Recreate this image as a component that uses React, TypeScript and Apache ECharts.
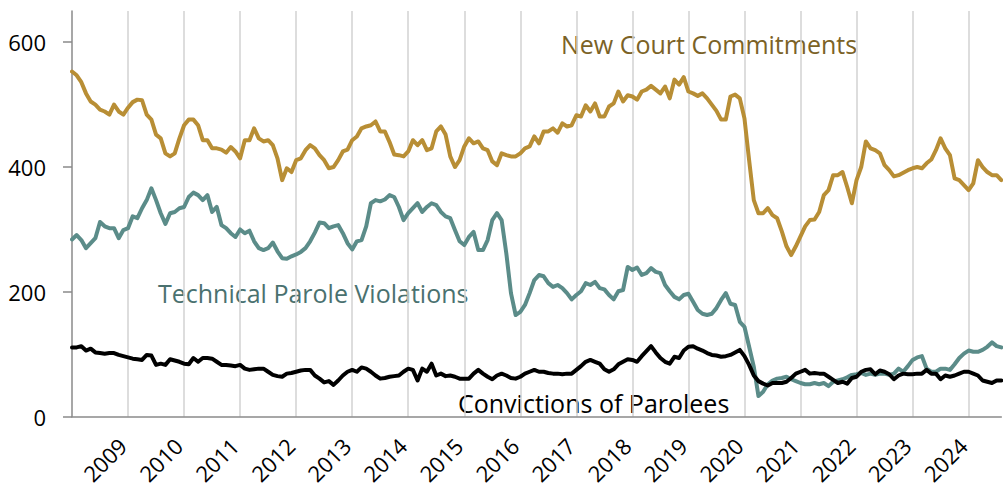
import React, { useEffect, useRef } from "react";
import * as echarts from "echarts";

// Monthly categories, Jan 2008 .. Aug 2024
const START_YEAR = 2008;
const MONTH_COUNT = 200;
const months: string[] = Array.from(
  { length: MONTH_COUNT },
  (_, i) => `${START_YEAR + Math.floor(i / 12)}-${String((i % 12) + 1).padStart(2, "0")}`
);

const yTicks = [0, 200, 400, 600];

// New Court Commitments
const newCourt = [
  553, 547, 536, 518, 505, 500, 492, 489, 484, 500, 489, 484,
  495, 504, 508, 507, 484, 476, 452, 446, 422, 417, 422, 446,
  467, 476, 476, 467, 443, 443, 430, 430, 428, 423, 432, 425,
  414, 443, 443, 462, 446, 441, 443, 435, 414, 379, 398, 392,
  411, 414, 427, 435, 430, 419, 411, 398, 400, 411, 425, 428,
  443, 449, 462, 465, 467, 473, 457, 457, 440, 420, 419, 417,
  425, 443, 435, 443, 427, 430, 457, 465, 452, 417, 400, 411,
  433, 446, 438, 441, 430, 427, 409, 403, 422, 419, 417, 417,
  422, 430, 433, 449, 438, 457, 457, 462, 455, 470, 465, 467,
  483, 481, 499, 489, 502, 481, 481, 497, 502, 521, 505, 515,
  513, 508, 521, 524, 530, 524, 518, 529, 510, 540, 532, 544,
  521, 518, 514, 518, 510, 500, 490, 476, 476, 513, 516, 510,
  478, 411, 347, 326, 326, 334, 323, 318, 297, 273, 259, 273,
  289, 305, 315, 316, 328, 355, 363, 387, 387, 392, 368, 342,
  379, 400, 441, 430, 427, 422, 403, 395, 385, 387, 391, 395,
  398, 400, 398, 406, 412, 427, 446, 430, 419, 382, 379, 371,
  363, 374, 411, 400, 392, 387, 387, 379,
];

// Technical Parole Violations
const technical = [
  284, 291, 283, 270, 278, 286, 312, 305, 302, 302, 286, 299,
  302, 321, 318, 334, 347, 366, 347, 326, 309, 326, 328, 334,
  336, 352, 359, 355, 347, 355, 328, 336, 307, 302, 294, 288,
  300, 294, 298, 281, 270, 267, 270, 279, 265, 254, 253, 257,
  260, 264, 270, 281, 295, 311, 310, 302, 305, 307, 294, 278,
  268, 281, 283, 305, 342, 347, 345, 348, 355, 352, 336, 315,
  326, 334, 342, 328, 336, 342, 339, 328, 321, 318, 299, 281,
  275, 288, 296, 267, 267, 283, 315, 326, 315, 262, 198, 163,
  168, 179, 198, 219, 227, 225, 214, 208, 211, 206, 198, 188,
  195, 201, 214, 211, 216, 206, 204, 195, 188, 201, 203, 240,
  235, 239, 227, 230, 238, 232, 230, 211, 201, 192, 188, 195,
  197, 184, 171, 165, 163, 165, 174, 187, 198, 181, 179, 152,
  144, 112, 80, 33, 40, 52, 58, 61, 62, 64, 60, 57,
  54, 52, 52, 54, 52, 54, 49, 56, 58, 60, 63, 67,
  68, 70, 67, 69, 67, 69, 69, 67, 69, 77, 72, 81,
  91, 95, 97, 77, 72, 72, 77, 77, 75, 84, 94, 101,
  106, 104, 104, 107, 112, 119, 113, 111,
];

// Convictions of Parolees
const convictions = [
  111, 111, 113, 106, 109, 103, 102, 101, 102, 102, 99, 97,
  95, 93, 92, 91, 99, 98, 83, 85, 83, 92, 90, 88,
  85, 84, 94, 88, 94, 94, 93, 88, 83, 83, 82, 81,
  83, 77, 75, 76, 77, 77, 72, 67, 65, 64, 69, 70,
  72, 74, 75, 75, 66, 61, 55, 57, 51, 58, 66, 72,
  75, 72, 79, 77, 72, 66, 61, 62, 64, 65, 66, 72,
  77, 75, 58, 77, 72, 85, 66, 69, 65, 66, 64, 61,
  61, 61, 69, 75, 69, 64, 60, 66, 69, 66, 62, 61,
  64, 69, 72, 75, 72, 72, 70, 69, 69, 68, 69, 69,
  75, 81, 88, 91, 88, 85, 76, 72, 76, 84, 88, 92,
  91, 88, 97, 105, 113, 103, 94, 88, 85, 96, 94, 106,
  112, 113, 109, 106, 102, 99, 98, 96, 97, 99, 103, 107,
  97, 83, 66, 57, 53, 50, 54, 54, 54, 56, 62, 69,
  72, 75, 69, 70, 69, 69, 64, 59, 54, 56, 53, 62,
  64, 72, 75, 76, 68, 74, 72, 68, 60, 66, 69, 68,
  68, 69, 69, 75, 69, 69, 60, 66, 64, 66, 69, 72,
  72, 69, 66, 58, 56, 54, 58, 58,
];

const seriesNames = ["New Court Commitments", "Technical Parole Violations", "Convictions of Parolees"];
const lineColors = ["#B88E35", "#5B8C89", "#000000"];
const labelColors = ["#7B6226", "#4A716F", "#000000"];

const FONT = "'Open Sans', 'Noto Sans', sans-serif";

export default function App() {
  const ref = useRef<HTMLDivElement>(null);

  useEffect(() => {
    if (!ref.current) return;
    const chart = echarts.init(ref.current, undefined, { renderer: "svg" });
    const isYearStart = (index: number) => index > 0 && index % 12 === 0;

    const mkSeries = (name: string, data: number[], color: string) => ({
      name,
      type: "line",
      data,
      xAxisIndex: 0,
      yAxisIndex: 0,
      showSymbol: false,
      symbol: "none",
      smooth: false,
      lineStyle: { color, width: 4, join: "round", cap: "round" },
      itemStyle: { color },
      emphasis: { disabled: true },
    });

    const plotW = 929.3;
    const plotH = 405.7;

    chart.setOption({
      animation: false,
      backgroundColor: "#ffffff",
      grid: [
        { left: 72, top: 11, width: plotW, height: plotH, containLabel: false, outerBoundsMode: "none" },
        // label-only grid, nudged left so the rotated year labels end at the year lines
        { left: 66.3, top: 11, width: plotW, height: plotH, containLabel: false, outerBoundsMode: "none" },
      ],
      xAxis: [
        {
          type: "category",
          gridIndex: 0,
          data: months,
          boundaryGap: false,
          axisLine: { show: true, lineStyle: { color: "#8a8a8a", width: 1.5 } },
          axisTick: { show: false },
          axisLabel: { show: false },
          splitLine: {
            show: true,
            interval: (index: number) => isYearStart(index),
            lineStyle: { color: "#d2d2d2", width: 1.5 },
          },
        },
        {
          type: "category",
          gridIndex: 1,
          data: months,
          boundaryGap: false,
          axisLine: { show: false },
          axisTick: { show: false },
          splitLine: { show: false },
          axisLabel: {
            interval: (index: number) => isYearStart(index),
            formatter: (v: string) => v.slice(0, 4),
            rotate: 45,
            margin: 25,
            fontSize: 22,
            color: "#000",
            fontFamily: FONT,
          },
        },
      ],
      yAxis: [
        {
          type: "value",
          gridIndex: 0,
          min: 0,
          max: 650,
          interval: 200,
          axisLine: { show: true, lineStyle: { color: "#8a8a8a", width: 1.5 } },
          axisTick: {
            show: true,
            inside: false,
            length: 9,
            customValues: yTicks,
            lineStyle: { color: "#8a8a8a", width: 1.5 },
          },
          axisLabel: {
            customValues: yTicks,
            margin: 26,
            fontSize: 22,
            color: "#000",
            fontFamily: FONT,
          },
          splitLine: { show: false },
        },
        {
          type: "value",
          gridIndex: 1,
          min: 0,
          max: 650,
          show: false,
        },
      ],
      series: [
        mkSeries(seriesNames[0], newCourt, lineColors[0]),
        mkSeries(seriesNames[1], technical, lineColors[1]),
        mkSeries(seriesNames[2], convictions, lineColors[2]),
      ],
      graphic: [
        {
          type: "text",
          x: 561,
          y: 44,
          style: {
            text: seriesNames[0],
            fill: labelColors[0],
            fontSize: 25,
            fontFamily: FONT,
            align: "left",
            verticalAlign: "middle",
          },
        },
        {
          type: "text",
          x: 158,
          y: 293,
          style: {
            text: seriesNames[1],
            fill: labelColors[1],
            fontSize: 25,
            fontFamily: FONT,
            align: "left",
            verticalAlign: "middle",
          },
        },
        {
          type: "text",
          x: 458,
          y: 403,
          style: {
            text: seriesNames[2],
            fill: labelColors[2],
            fontSize: 25,
            fontFamily: FONT,
            align: "left",
            verticalAlign: "middle",
          },
        },
      ],
    });

    return () => chart.dispose();
  }, []);

  return (
    <div
      ref={ref}
      style={{ position: "absolute", left: 0, top: 0, width: 1003, height: 489 }}
    />
  );
}
